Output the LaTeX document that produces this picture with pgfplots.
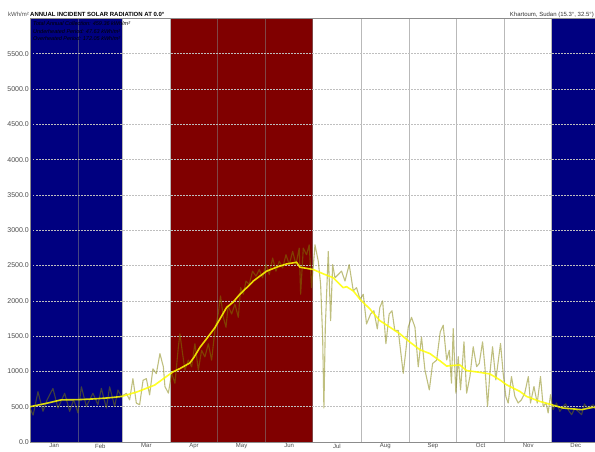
\documentclass[border=0pt]{standalone}
\usepackage{pgfplots}
\pgfplotsset{compat=1.18}
\usepackage{fontspec}
\setmainfont{Liberation Sans}
\definecolor{bandblue}{RGB}{0,0,128}
\definecolor{bandred}{RGB}{128,0,0}
\definecolor{rawc}{RGB}{128,128,0}
\definecolor{smoothc}{RGB}{255,255,0}
\begin{document}
\begin{tikzpicture}
\begin{axis}[
  at={(0pt,0pt)}, anchor=south west,
  scale only axis, width=570pt, height=423.6pt,
  xmin=0, xmax=365, ymin=0, ymax=6000,
  set layers,
  axis line style={black!45},
  xtick={15.5,45,74.5,105,135.5,166,196.5,227.5,258,288.5,319,349.5},
  xticklabels={Jan,Feb,Mar,Apr,May,Jun,Jul,Aug,Sep,Oct,Nov,Dec},
  minor xtick={31,59,90,120,151,181,212,243,273,304,334},
  xminorgrids=true, xmajorgrids=false,
  minor x grid style={black!50, opacity=0.55, line width=0.9pt},
  ytick={0,500,...,5500},
  ymajorgrids=true,
  major y grid style={black!25, dash pattern=on 1.5pt off 1.5pt, line width=0.5pt},
  scaled y ticks=false,
  tick style={draw=none},
  major tick length=0pt, minor tick length=0pt,
  /pgf/number format/assume math mode=true,
  yticklabel style={/pgf/number format/.cd, fixed, fixed zerofill, precision=1, 1000 sep={}, /tikz/.cd,
     font=\fontsize{7}{8}\selectfont, text=black!70, inner sep=0pt, xshift=-1pt},
  xticklabel style={font=\fontsize{6}{7}\selectfont, text=black!70, inner sep=0pt, anchor=north, yshift=-1.5pt},
]
\addplot[on layer=axis background, fill=bandblue, draw=none] coordinates {(0,6000) (59,6000)} \closedcycle;
\addplot[on layer=axis background, fill=bandred, draw=none] coordinates {(90,6000) (181,6000)} \closedcycle;
\addplot[on layer=axis background, fill=bandblue, draw=none] coordinates {(334,6000) (365,6000)} \closedcycle;
% daily values
\addplot[rawc, opacity=0.5, line width=1.1pt, line join=round, mark=none] coordinates {
(0,480) (2,380) (5.1,713) (8.3,435) (11,600) (14.7,759) (17.9,481) (22.2,690) (25.4,435) (28,600)
(30.7,412) (32.9,782) (36.1,505) (40.3,690) (43.5,528) (45.7,759) (48.9,481) (51,782) (54.2,505) (56.3,736)
(58.5,644) (61.7,690) (63.8,597) (65.9,898) (68.1,551) (70.2,528) (72.4,875) (74.5,898) (76.6,667) (78.7,1037)
(80.9,968) (83.2,1252) (85.4,1065) (86.4,787) (88.6,692) (90.7,972) (92.8,832) (95,1346) (96,1532) (97.7,1252)
(99.2,1019) (101.4,1159) (103.5,1065) (105.6,1392) (107.8,1019) (109.9,1299) (112,1205) (114.2,1392) (116.3,1159) (118.4,1579)
(120.5,1813) (122,2069) (123.8,1766) (125.5,1626) (126.9,1929) (129.1,1813) (131.2,1953) (133.4,1766) (134.9,2186) (136.6,2093)
(138.3,2280) (140.4,2233) (142.5,2420) (144.7,2350) (146.8,2443) (148.9,2326) (151.1,2513) (153.2,2373) (155.4,2606) (157.5,2420)
(159.6,2560) (161.8,2466) (163.9,2653) (166,2513) (168.2,2700) (170.3,2513) (172.4,2747) (173.3,2093) (175,2747) (177.1,2653)
(178.8,2793) (180.3,2186) (182.5,2793) (184.6,2560) (186.1,2233) (187.4,1486) (188.2,482) (189.1,1626) (191,2700) (192.5,1719)
(193.8,2513) (195.3,2326) (197.4,2373) (199.5,2420) (201.7,2280) (204.4,2513) (207,2140) (209.1,2186) (211.3,2023) (213.4,2093)
(215.5,1672) (218.1,1813) (220.2,1859) (222.4,1602) (224,1906) (225.8,1999) (227.9,1392) (230,1813) (231.8,1859) (233.6,1579)
(235.8,1579) (239,972) (240.7,1299) (242.2,1626) (244.3,1766) (246.5,1626) (248.6,1065) (250.7,1486) (252.9,1019) (255.7,738)
(257.8,1112) (260.4,1159) (262.7,1560) (264.6,1654) (266.8,1161) (268.5,1300) (269.9,833) (271,1607) (272.7,692) (274.2,1208)
(275.7,739) (277.9,1419) (279.6,692) (281.7,927) (283.8,1349) (286,1067) (287.7,1114) (289.8,1419) (291.3,1067) (293,505)
(294.5,974) (296.2,1349) (298.3,880) (301.3,1396) (303,974) (304.7,645) (306.2,552) (308.3,927) (310.5,645) (312.6,552)
(314.7,598) (316.8,692) (319.1,927) (320.5,552) (322.7,786) (324.8,552) (326.9,927) (328.6,505) (330.5,552) (331.8,411)
(333.3,669) (335,458) (337.1,552) (339.3,434) (341.4,505) (343,540) (344.6,458) (346.8,387) (349,481) (351,434)
(353.2,387) (355,540) (357,481) (360.6,528) (363,470) (365,500)
};
% smoothed values
\addplot[smoothc, opacity=0.85, line width=1.6pt, line join=round, mark=none] coordinates {
(0,500) (10,545) (20,597) (30.7,600) (41.4,611) (50,625) (58.5,644) (69,713) (79.8,806) (88.4,944)
(91.7,995) (96,1040) (102.4,1120) (105,1200) (108.8,1340) (113,1460) (118.4,1620) (125.9,1906) (130,1980) (134.4,2093)
(140.8,2229) (143,2280) (151.5,2420) (157.9,2476) (164.3,2522) (170.7,2546) (172.8,2476) (181.4,2443) (187.8,2382) (194.2,2326)
(200.6,2186) (202.7,2200) (207,2140) (211.3,2023) (217.7,1883) (224,1719) (230.5,1626) (236.9,1532) (243.2,1416) (249.6,1308)
(256.1,1252) (262.5,1150) (266.8,1075) (271,1085) (275.3,1091) (279.6,1011) (287,990) (294.5,964) (300.9,880) (305.2,810)
(313.7,716) (318,645) (326.5,575) (334,528) (341.4,481) (347,470) (353.2,458) (360.6,491) (365,480)
};
\end{axis}
\node[anchor=base west, inner sep=0pt, font=\bfseries\fontsize{6}{7}\selectfont] at (0pt,425.3pt) {ANNUAL INCIDENT SOLAR RADIATION AT 0.0°};
\node[anchor=base east, inner sep=0pt, font=\fontsize{6}{7}\selectfont, text=black!70] at (-1pt,425.3pt) {kWh/m²};
\node[anchor=base east, inner sep=0pt, font=\fontsize{6}{7}\selectfont, text=black!80] at (564pt,425.3pt) {Khartoum, Sudan (15.3°, 32.5°)};
\node[anchor=base west, inner sep=0pt, font=\itshape\fontsize{5.5}{6}\selectfont] at (3pt,416.5pt) {Total Annual Collection: 459.36 kWh/m²};
\node[anchor=base west, inner sep=0pt, font=\itshape\fontsize{5.5}{6}\selectfont] at (3pt,409pt) {Underheated Period: 47.63 kWh/m²};
\node[anchor=base west, inner sep=0pt, font=\itshape\fontsize{5.5}{6}\selectfont] at (3pt,402pt) {Overheated Period: 172.05 kWh/m²};
\pgfresetboundingbox
\path[use as bounding box] (-30pt,-9pt) rectangle (565pt,442pt);
\end{tikzpicture}
\end{document}
